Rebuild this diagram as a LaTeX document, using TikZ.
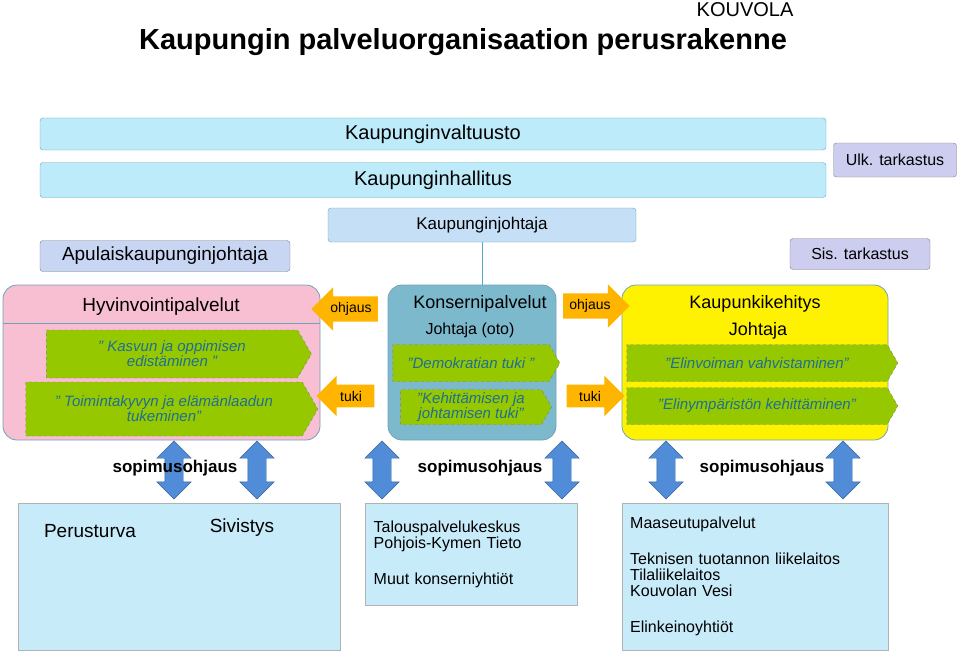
\documentclass[tikz,border=0pt]{standalone}
\usepackage{fontspec}
\setmainfont{Liberation Sans}
\usetikzlibrary{shapes.arrows,shapes.symbols,positioning}
\definecolor{barblue}{RGB}{190,235,250}
\definecolor{lav}{RGB}{205,205,240}
\definecolor{pinkbox}{RGB}{248,190,210}
\definecolor{konblue}{RGB}{125,185,205}
\definecolor{chevgreen}{RGB}{150,200,0}
\definecolor{chevtext}{RGB}{30,110,150}
\definecolor{orangear}{RGB}{255,180,0}
\definecolor{dblue}{RGB}{80,140,215}
\definecolor{lowbox}{RGB}{200,235,250}
\newcommand\fs[1]{\fontsize{#1}{#1}\selectfont}
\tikzset{
  bar/.style={draw=cyan!50!gray, fill=barblue, rounded corners=3pt, minimum height=32pt, font=\fs{20}},
  tagbox/.style={draw=gray, fill=lav, rounded corners=3pt, minimum height=31pt},
  unit/.style={draw=cyan!40!gray, thick, rounded corners=14pt},
  chev/.style={signal, signal to=east, signal pointer angle=120, fill=chevgreen, draw=gray, dashed,
    text=chevtext, font=\fs{15}\itshape, align=center, inner sep=1pt},
  flow/.style={single arrow, fill=orangear, single arrow head extend=9pt, minimum height=58pt, inner sep=6pt, font=\fs{14}},
  sopim/.style={double arrow, fill=dblue, draw=dblue!70!black, shape border rotate=90, minimum height=58pt, double arrow head extend=8pt, inner sep=9pt},
  lower/.style={draw=gray!60, fill=lowbox, anchor=north west},
}
\begin{document}
\begin{tikzpicture}[x=1pt,y=-1pt, font=\fs{16}]
\useasboundingbox (0,0) rectangle (960,650);
% otsikko
\node[font=\fs{20}] (kou) at (745,10) {KOUVOLA};
\node[font=\bfseries\fs{29}] (title) at (463,42) {Kaupungin palveluorganisaation perusrakenne};
% ylin johto
\node[bar, minimum width=786pt] (valt) at (433,134) {Kaupunginvaltuusto};
\node[bar, minimum width=786pt, minimum height=35pt] (hall) at (433,180) {Kaupunginhallitus};
\node[tagbox, minimum width=123pt, minimum height=34pt] (ulk) at (895,160) {Ulk. tarkastus};
\node[bar, fill=barblue!60!lav, minimum width=308pt, minimum height=34pt, font=\fs{17}] (kj) at (482,225) {Kaupunginjohtaja};
\node[tagbox, fill=lav!70!barblue, minimum width=250pt, font=\fs{19}] (apul) at (165,256) {Apulaiskaupunginjohtaja};
\node[tagbox, minimum width=140pt] (sis) at (860,254) {Sis. tarkastus};
\draw[cyan!60!gray] (kj.south) -- (482,285);
% palvelualueet
\node[unit, fill=pinkbox, minimum width=317pt, minimum height=155pt] (hyv) at (161.5,362.5) {};
\draw[cyan!40!gray] (3,323) -- (320,323);
\node[font=\fs{19}] (hyvt) at (161,307) {Hyvinvointipalvelut};
\node[unit, fill=konblue, minimum width=168pt, minimum height=155pt] (kon) at (472,362.5) {};
\node[font=\fs{18}] (kont) at (480,304) {Konsernipalvelut};
\node (konj) at (470,330) {Johtaja (oto)};
\node[unit, fill=yellow, minimum width=266pt, minimum height=155pt] (kau) at (755,362.5) {};
\node[font=\fs{18}] (kaut) at (755,304) {Kaupunkikehitys};
\node[font=\fs{18}] (kauj) at (758,331) {Johtaja};
% tehtavat
\node[chev, minimum width=265pt, minimum height=48pt] (kasv) at (172,354) {" Kasvun ja oppimisen\\edistäminen "};
\node[chev, minimum width=292pt, minimum height=54pt] (toim) at (164,409) {" Toimintakyvyn ja elämänlaadun\\tukeminen"};
\node[chev, minimum width=167pt, minimum height=37pt] (demo) at (471,363) {"Demokratian tuki "};
\node[chev, minimum width=151pt, minimum height=35pt] (keh) at (471,407) {"Kehittämisen ja\\johtamisen tuki"};
\node[chev, minimum width=271pt, minimum height=37pt] (elin) at (757,363) {"Elinvoiman vahvistaminen"};
\node[chev, minimum width=271pt, minimum height=37pt] (ymp) at (757,406) {"Elinympäristön kehittäminen"};
% ohjaus ja tuki
\node[flow, shape border rotate=180] (ohjv) at (351,309) {ohjaus};
\node[flow, shape border rotate=180] (tukiv) at (351,396) {tuki};
\node[flow] (ohjo) at (590,306) {ohjaus};
\node[flow] (tukio) at (590,396) {tuki};
% sopimusohjaus
\foreach \x/\n in {174/a,257/b,382/c,562/d,666/e,843/f}
  \node[sopim] (s\n) at (\x,470) {};
\node[font=\bfseries\fs{17}] (sop1) at (175,468) {sopimusohjaus};
\node[font=\bfseries\fs{17}] (sop2) at (480,468) {sopimusohjaus};
\node[font=\bfseries\fs{17}] (sop3) at (762,468) {sopimusohjaus};
% tuotanto
\node[lower, minimum width=322pt, minimum height=147pt] (tuo1) at (18,503) {};
\node[font=\fs{19}] (per) at (90,531) {Perusturva};
\node[font=\fs{19}] (siv) at (242,528) {Sivistys};
\node[lower, minimum width=212pt, minimum height=102pt, align=left, text width=195pt, inner sep=8pt] (tuo2) at (365,503)
  {Talouspalvelukeskus\\Pohjois-Kymen Tieto\\[20pt]Muut konserniyhtiöt};
\node[lower, minimum width=266pt, minimum height=147pt, align=left, text width=250pt, inner sep=8pt] (tuo3) at (622,503)
  {Maaseutupalvelut\\[20pt]Teknisen tuotannon liikelaitos\\Tilaliikelaitos\\Kouvolan Vesi\\[20pt]Elinkeinoyhtiöt};
\end{tikzpicture}
\end{document}
